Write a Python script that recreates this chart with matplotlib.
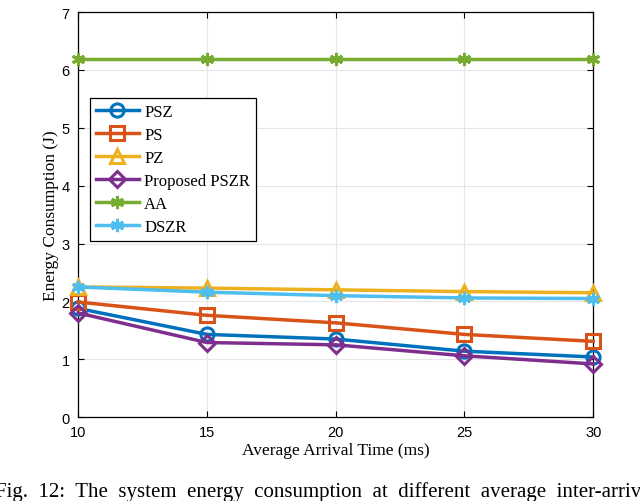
import matplotlib.pyplot as plt

# average arrival time (ms)
arrival = [10, 15, 20, 25, 30]

# energy consumption (J) per scheme
psz = [1.88, 1.43, 1.35, 1.14, 1.04]
ps = [1.99, 1.76, 1.63, 1.43, 1.31]
pz = [2.25, 2.23, 2.20, 2.17, 2.15]
pszr = [1.80, 1.29, 1.25, 1.06, 0.92]
aa = [6.19, 6.19, 6.19, 6.19, 6.19]
dszr = [2.25, 2.16, 2.10, 2.06, 2.05]

labels = ['PSZ', 'PS', 'PZ', 'Proposed PSZR', 'AA', 'DSZR']
colors = ['#0072BD', '#D95319', '#EDB120', '#7E2F8E', '#77AC30', '#4DBEEE']
markers = ['o', 's', '^', 'D', (6, 2, 0), (6, 2, 0)]

fig = plt.figure(figsize=(6.4, 5.02), dpi=100)
ax = fig.add_axes([0.122, 0.167, 0.805, 0.807])

series = [psz, ps, pz, pszr, aa, dszr]
for vals, lab, c, m in zip(series, labels, colors, markers):
    ms = 8 if m == 'D' else 9.5
    ax.plot(arrival, vals, color=c, marker=m, markersize=ms, linewidth=2.5,
            markerfacecolor='none', markeredgewidth=2.2, label=lab,
            clip_on=False, zorder=3)

ax.set_xlim(10, 30)
ax.set_ylim(0, 7)
ax.set_xticks(arrival)
ax.set_yticks(range(0, 8))
ax.grid(True, color='#e6e6e6', linewidth=0.8)
ax.set_axisbelow(True)
ax.tick_params(direction='in', top=True, right=True, labelsize=10.5, length=4, pad=6)
for lbl in ax.get_xticklabels() + ax.get_yticklabels():
    lbl.set_family('Liberation Sans')
for s in ax.spines.values():
    s.set_linewidth(0.9)

ax.set_xlabel('Average Arrival Time (ms)', family='Liberation Serif', fontsize=12.5, labelpad=2)
ax.set_ylabel('Energy Consumption (J)', family='Liberation Serif', fontsize=12.5, labelpad=2)

leg = ax.legend(loc='upper left', bbox_to_anchor=(0.023, 0.787), frameon=True,
                fancybox=False, edgecolor='black', framealpha=1,
                prop={'family': 'Liberation Serif', 'size': 12},
                labelspacing=0.42, handlelength=2.6, handletextpad=0.3,
                borderpad=0.35, borderaxespad=0)
leg.get_frame().set_linewidth(0.9)

fig.text(-0.008, 0.01, 'Fig.  12:  The  system  energy  consumption  at  different  average  inter-arrival',
         family='Liberation Serif', fontsize=15, va='baseline', ha='left')

fig.savefig('out.png', dpi=100)
